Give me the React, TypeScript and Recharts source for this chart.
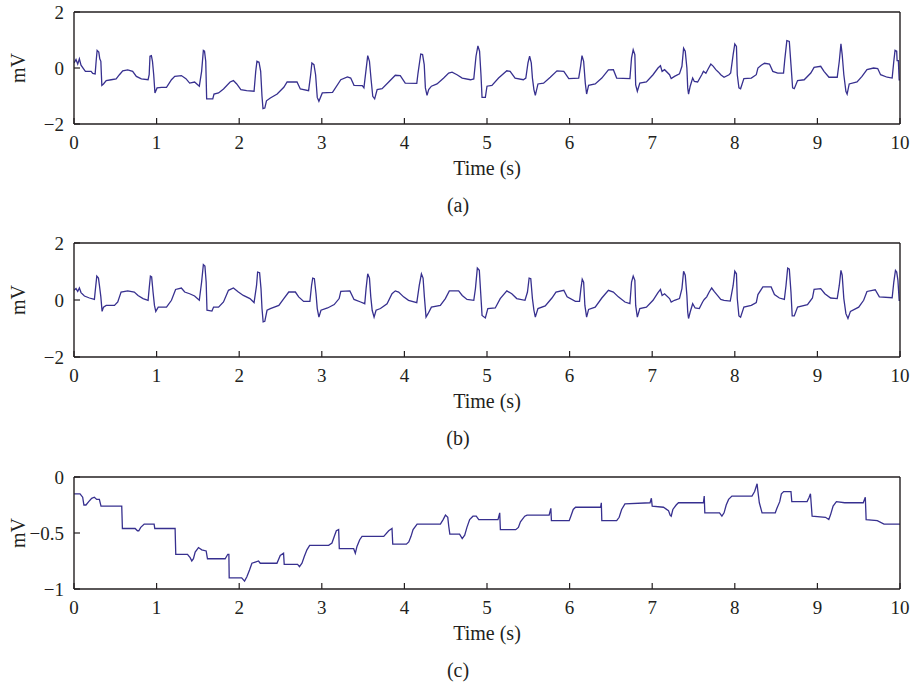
import React from 'react';
import { LineChart, Line, XAxis, YAxis, Label } from 'recharts';

const X_TICKS = [0, 1, 2, 3, 4, 5, 6, 7, 8, 9, 10];
const Y_TICKS_AB = [-2, 0, 2];
const Y_TICKS_C = [-1, -0.5, 0];

// (a) raw ECG, [time s, mV]
const rawA: [number, number][] = [
  [0, 0.18], [0.024, 0.3], [0.045, 0.14], [0.065, 0.33], [0.085, 0.1], [0.114, -0.02], [0.138, -0.12], [0.207, -0.12], [0.227, -0.19], [0.256, -0.21],
  [0.268, 0.24], [0.28, 0.63], [0.3, 0.57], [0.312, 0.33], [0.325, 0.24], [0.337, -0.62], [0.357, -0.57], [0.39, -0.45], [0.45, -0.42], [0.51, -0.39],
  [0.55, -0.24], [0.59, -0.1], [0.65, -0.07], [0.71, -0.12], [0.755, -0.3], [0.815, -0.39], [0.897, -0.42],
  [0.91, -0.24], [0.92, 0.42], [0.937, 0.44], [0.95, 0.24], [0.965, -0.24], [0.98, -0.89], [1.006, -0.71], [1.06, -0.69], [1.12, -0.69], [1.18, -0.42],
  [1.22, -0.3], [1.3, -0.27], [1.355, -0.38], [1.4, -0.54], [1.46, -0.5], [1.517, -0.65],
  [1.545, -0.12], [1.566, 0.63], [1.58, 0.6], [1.595, 0.24], [1.606, -1.1], [1.68, -1.1], [1.695, -0.93], [1.75, -0.89], [1.81, -0.75], [1.89, -0.5],
  [1.93, -0.45], [1.97, -0.57], [2.02, -0.77], [2.09, -0.81], [2.18, -0.83],
  [2.2, -0.12], [2.215, 0.24], [2.24, 0.21], [2.26, -0.12], [2.276, -1.01], [2.288, -1.45], [2.31, -1.43], [2.33, -1.17], [2.377, -1.07], [2.46, -0.93],
  [2.54, -0.69], [2.58, -0.5], [2.7, -0.5], [2.74, -0.75], [2.84, -0.81],
  [2.865, -0.24], [2.88, 0.18], [2.905, 0.12], [2.925, -0.24], [2.945, -1.05], [2.965, -1.19], [3.006, -0.89], [3.13, -0.87], [3.23, -0.42], [3.31, -0.32],
  [3.35, -0.36], [3.39, -0.62], [3.49, -0.63], [3.51, -0.71],
  [3.536, -0.06], [3.556, 0.44], [3.577, 0.24], [3.597, -0.42], [3.617, -1.01], [3.64, -1.1], [3.67, -0.77], [3.73, -0.74], [3.81, -0.5], [3.89, -0.26],
  [3.95, -0.27], [4.01, -0.54], [4.15, -0.55],
  [4.165, -0.18], [4.198, 0.5], [4.22, 0.48], [4.24, 0.12], [4.254, -0.71], [4.274, -0.98], [4.294, -0.77], [4.327, -0.65], [4.395, -0.57], [4.476, -0.36],
  [4.536, -0.18], [4.577, -0.15], [4.637, -0.24], [4.7, -0.36], [4.8, -0.42],
  [4.84, -0.39], [4.867, 0.42], [4.89, 0.79], [4.91, 0.6], [4.927, -0.24], [4.94, -1.05], [4.98, -1.05], [5.0, -0.65], [5.06, -0.62], [5.14, -0.36],
  [5.24, -0.1], [5.28, -0.12], [5.34, -0.36], [5.44, -0.42],
  [5.47, -0.36], [5.496, 0.18], [5.516, 0.42], [5.536, 0.18], [5.55, -0.36], [5.568, -0.77], [5.585, -0.98], [5.617, -0.57], [5.685, -0.54], [5.766, -0.33],
  [5.847, -0.1], [5.93, -0.12], [5.99, -0.38], [6.11, -0.36],
  [6.133, 0.06], [6.15, 0.44], [6.17, 0.24], [6.19, -0.54], [6.206, -0.93], [6.23, -0.62], [6.31, -0.57], [6.39, -0.36], [6.47, -0.07], [6.53, -0.06],
  [6.57, -0.36], [6.73, -0.38],
  [6.75, 0.36], [6.77, 0.65], [6.79, 0.48], [6.8, -0.6], [6.82, -0.83], [6.85, -0.54], [6.93, -0.5], [7.01, -0.24], [7.07, 0.0], [7.1, 0.08],
  [7.12, -0.12], [7.15, -0.06], [7.21, -0.24], [7.23, -0.38], [7.27, -0.3], [7.33, -0.21],
  [7.36, 0.06], [7.38, 0.71], [7.4, 0.6], [7.42, 0.0], [7.43, -0.71], [7.44, -0.93], [7.46, -0.65], [7.49, -0.36], [7.51, -0.48], [7.55, -0.5],
  [7.6, -0.24], [7.62, -0.12], [7.65, -0.19], [7.68, -0.02], [7.71, 0.14], [7.74, 0.06], [7.77, -0.06], [7.8, -0.14], [7.83, -0.24], [7.87, -0.33],
  [7.93, -0.24], [7.95, -0.18],
  [7.98, 0.48], [8.0, 0.86], [8.02, 0.77], [8.03, -0.24], [8.05, -0.71], [8.07, -0.74], [8.11, -0.38], [8.2, -0.36], [8.26, -0.24], [8.28, 0.0],
  [8.32, 0.1], [8.36, 0.17], [8.42, 0.14], [8.46, -0.12], [8.52, -0.18], [8.59, -0.18],
  [8.605, 0.3], [8.63, 0.98], [8.66, 0.95], [8.68, 0.12], [8.7, -0.71], [8.72, -0.74], [8.76, -0.45], [8.84, -0.42], [8.92, -0.18], [8.96, 0.02],
  [9.04, 0.06], [9.08, -0.12], [9.14, -0.33], [9.24, -0.33],
  [9.265, 0.24], [9.285, 0.86], [9.3, 0.48], [9.32, -0.24], [9.345, -0.83], [9.36, -0.93], [9.385, -0.57], [9.48, -0.5], [9.54, -0.3], [9.6, -0.06],
  [9.68, 0.0], [9.73, -0.02], [9.765, -0.24], [9.845, -0.33], [9.905, -0.36],
  [9.925, 0.24], [9.94, 0.63], [9.96, 0.6], [9.965, 0.26], [9.98, 0.26], [9.99, -0.42], [10, -0.42],
];

// (b) baseline-corrected ECG, [time s, mV]
const rawB: [number, number][] = [
  [0, 0.34], [0.024, 0.4], [0.045, 0.3], [0.065, 0.42], [0.085, 0.26], [0.126, 0.14], [0.187, 0.07], [0.247, 0.02],
  [0.26, 0.4], [0.276, 0.84], [0.296, 0.77], [0.308, 0.51], [0.325, 0.11], [0.34, -0.4], [0.357, -0.25], [0.39, -0.19], [0.49, -0.19], [0.53, -0.07],
  [0.57, 0.28], [0.65, 0.32], [0.73, 0.28], [0.775, 0.16], [0.836, 0.05], [0.897, -0.01],
  [0.91, 0.4], [0.925, 0.84], [0.94, 0.81], [0.957, 0.28], [0.974, -0.19], [0.99, -0.4], [1.02, -0.25], [1.12, -0.25], [1.18, -0.01], [1.23, 0.37],
  [1.3, 0.42], [1.34, 0.28], [1.4, 0.22], [1.46, 0.14], [1.517, -0.01],
  [1.545, 0.63], [1.566, 1.24], [1.585, 1.19], [1.6, 0.63], [1.61, -0.36], [1.67, -0.39], [1.69, -0.25], [1.75, -0.25], [1.81, -0.07], [1.87, 0.34],
  [1.93, 0.42], [1.99, 0.28], [2.05, 0.16], [2.13, 0.05], [2.18, -0.09],
  [2.21, 0.51], [2.223, 0.98], [2.247, 0.96], [2.264, 0.4], [2.276, -0.3], [2.29, -0.77], [2.31, -0.75], [2.337, -0.36], [2.377, -0.3], [2.48, -0.19],
  [2.54, 0.05], [2.6, 0.28], [2.68, 0.28], [2.72, 0.11], [2.78, -0.05], [2.856, -0.05],
  [2.876, 0.51], [2.89, 0.77], [2.91, 0.75], [2.93, 0.22], [2.945, -0.3], [2.965, -0.6], [2.99, -0.36], [3.07, -0.28], [3.15, -0.16], [3.21, 0.05],
  [3.23, 0.3], [3.34, 0.32], [3.39, 0.02], [3.47, -0.07], [3.52, -0.13],
  [3.536, 0.4], [3.556, 0.92], [3.577, 0.77], [3.593, 0.11], [3.61, -0.36], [3.633, -0.6], [3.657, -0.36], [3.71, -0.3], [3.79, -0.13], [3.85, 0.22],
  [3.89, 0.32], [3.93, 0.28], [3.99, 0.11], [4.05, -0.01], [4.15, -0.09],
  [4.18, 0.51], [4.206, 0.92], [4.226, 0.77], [4.242, 0.11], [4.262, -0.6], [4.286, -0.48], [4.327, -0.25], [4.435, -0.19], [4.496, 0.05], [4.544, 0.32],
  [4.657, 0.32], [4.7, 0.16], [4.758, 0.02], [4.84, -0.01],
  [4.86, 0.4], [4.883, 1.12], [4.907, 1.04], [4.923, 0.28], [4.94, -0.54], [4.98, -0.63], [5.01, -0.3], [5.1, -0.28], [5.16, 0.05], [5.24, 0.32],
  [5.3, 0.22], [5.36, 0.05], [5.46, -0.01],
  [5.49, 0.28], [5.51, 0.77], [5.53, 0.75], [5.55, 0.05], [5.568, -0.36], [5.585, -0.6], [5.617, -0.3], [5.705, -0.21], [5.786, 0.07], [5.835, 0.28],
  [5.93, 0.34], [5.97, 0.11], [6.07, -0.05], [6.12, -0.05],
  [6.137, 0.4], [6.153, 0.73], [6.17, 0.63], [6.185, -0.19], [6.206, -0.6], [6.23, -0.33], [6.31, -0.25], [6.39, 0.07], [6.47, 0.34], [6.53, 0.28],
  [6.59, 0.11], [6.67, -0.07], [6.73, -0.13],
  [6.75, 0.63], [6.77, 0.84], [6.79, 0.69], [6.8, -0.19], [6.82, -0.6], [6.85, -0.3], [6.93, -0.25], [7.01, -0.01], [7.07, 0.26], [7.1, 0.37],
  [7.12, 0.16], [7.15, 0.22], [7.21, 0.05], [7.23, -0.07], [7.27, -0.01], [7.33, 0.05],
  [7.36, 0.4], [7.38, 1.01], [7.4, 0.87], [7.42, 0.16], [7.43, -0.42], [7.44, -0.65], [7.46, -0.42], [7.49, -0.13], [7.52, -0.28], [7.57, -0.3],
  [7.61, -0.07], [7.63, 0.02], [7.66, 0.11], [7.69, 0.28], [7.72, 0.42], [7.75, 0.3], [7.79, 0.16], [7.83, 0.02], [7.87, -0.01], [7.945, -0.04],
  [7.98, 0.51], [8.0, 1.01], [8.02, 0.92], [8.03, 0.05], [8.05, -0.56], [8.07, -0.6], [8.11, -0.25], [8.2, -0.19], [8.26, -0.09], [8.28, 0.19],
  [8.34, 0.46], [8.44, 0.46], [8.48, 0.19], [8.54, 0.07], [8.6, 0.02],
  [8.62, 0.51], [8.64, 1.12], [8.66, 1.08], [8.68, 0.28], [8.695, -0.56], [8.72, -0.56], [8.76, -0.25], [8.88, -0.16], [8.94, 0.07], [8.96, 0.37],
  [9.04, 0.4], [9.09, 0.22], [9.16, 0.07], [9.24, 0.05],
  [9.265, 0.51], [9.285, 1.04], [9.3, 0.87], [9.32, 0.05], [9.345, -0.48], [9.37, -0.65], [9.4, -0.4], [9.5, -0.25], [9.56, -0.01], [9.6, 0.3],
  [9.7, 0.36], [9.75, 0.11], [9.905, 0.08],
  [9.925, 0.63], [9.945, 1.04], [9.96, 0.98], [9.975, 0.69], [9.99, -0.01], [10, -0.01],
];

// (c) baseline wander, [time s, mV]
const rawC: [number, number][] = [
  [0, -0.15], [0.073, -0.15], [0.105, -0.18], [0.12, -0.25], [0.145, -0.25], [0.178, -0.22], [0.214, -0.19], [0.246, -0.18], [0.275, -0.2], [0.307, -0.2],
  [0.327, -0.26], [0.578, -0.26], [0.586, -0.46], [0.74, -0.46], [0.768, -0.48], [0.784, -0.48], [0.808, -0.45], [0.85, -0.42], [0.97, -0.42], [0.978, -0.46],
  [1.224, -0.46], [1.232, -0.69], [1.374, -0.69], [1.406, -0.72], [1.426, -0.75], [1.446, -0.73], [1.467, -0.67], [1.507, -0.63], [1.547, -0.65], [1.6, -0.66],
  [1.616, -0.73], [1.83, -0.73], [1.862, -0.69], [1.875, -0.69], [1.879, -0.9], [2.03, -0.9], [2.065, -0.93], [2.093, -0.89], [2.125, -0.83], [2.154, -0.77],
  [2.194, -0.76], [2.234, -0.75], [2.255, -0.77], [2.457, -0.77], [2.497, -0.7], [2.537, -0.68], [2.545, -0.78], [2.707, -0.78], [2.73, -0.8], [2.76, -0.77],
  [2.788, -0.71], [2.82, -0.65], [2.853, -0.61], [3.083, -0.61], [3.123, -0.59], [3.156, -0.52], [3.176, -0.48], [3.204, -0.47], [3.212, -0.64], [3.386, -0.64],
  [3.406, -0.68], [3.426, -0.62], [3.459, -0.56], [3.487, -0.53], [3.75, -0.53], [3.81, -0.48], [3.85, -0.46], [3.859, -0.6], [4.024, -0.6], [4.053, -0.58],
  [4.08, -0.53], [4.105, -0.47], [4.154, -0.42], [4.436, -0.42], [4.469, -0.38], [4.497, -0.34], [4.525, -0.36], [4.537, -0.44], [4.55, -0.51], [4.668, -0.51],
  [4.7, -0.55], [4.73, -0.52], [4.757, -0.45], [4.79, -0.38], [4.83, -0.35], [4.87, -0.35], [4.9, -0.38], [5.133, -0.38], [5.154, -0.32], [5.162, -0.47],
  [5.348, -0.47], [5.38, -0.45], [5.405, -0.4], [5.457, -0.35], [5.485, -0.34], [5.752, -0.34], [5.773, -0.28], [5.78, -0.39], [5.995, -0.39], [6.015, -0.35],
  [6.044, -0.29], [6.072, -0.27], [6.375, -0.27], [6.384, -0.23], [6.39, -0.39], [6.57, -0.39], [6.6, -0.36], [6.63, -0.29], [6.67, -0.24], [6.974, -0.23],
  [6.99, -0.19], [7.0, -0.26], [7.136, -0.27], [7.197, -0.3], [7.217, -0.34], [7.23, -0.35], [7.25, -0.29], [7.29, -0.25], [7.318, -0.23], [7.62, -0.23],
  [7.63, -0.17], [7.637, -0.32], [7.815, -0.32], [7.844, -0.35], [7.87, -0.32], [7.896, -0.25], [7.925, -0.2], [7.965, -0.17], [8.208, -0.17], [8.24, -0.13],
  [8.27, -0.06], [8.277, -0.11], [8.297, -0.23], [8.33, -0.32], [8.49, -0.32], [8.51, -0.28], [8.544, -0.22], [8.564, -0.15], [8.592, -0.13], [8.68, -0.13],
  [8.69, -0.22], [8.875, -0.22], [8.9, -0.18], [8.916, -0.15], [8.936, -0.35], [9.098, -0.36], [9.138, -0.38], [9.158, -0.34], [9.19, -0.26], [9.23, -0.22],
  [9.33, -0.23], [9.555, -0.23], [9.58, -0.18], [9.59, -0.38], [9.725, -0.39], [9.806, -0.42], [10, -0.42],
];

const toRows = (raw: [number, number][]) => raw.map(([t, v]) => ({ t, v }));
const dataA = toRows(rawA);
const dataB = toRows(rawB);
const dataC = toRows(rawC);

const FONT = '"Liberation Serif", "Times New Roman", Times, serif';
const INK = '#231f20';
const TRACE = '#37308f';
const TICK_FS = 19;
const LABEL_FS = 20;

const fmt = (v: number) => (v < 0 ? '\u2212' + Math.abs(v) : String(v));

type PanelProps = {
  data: { t: number; v: number }[];
  yDomain: [number, number];
  yTicks: number[];
  top: number;
  plotH: number;
  height: number;
  caption: string;
};

const MARGIN_TOP = 11;
const TOP_AXIS_H = 1;
const PLOT_TOP = MARGIN_TOP + TOP_AXIS_H;
const LEFT_W = 74;

function Panel({ data, yDomain, yTicks, top, plotH, height, caption }: PanelProps) {
  const plotBottom = PLOT_TOP + plotH;
  const xAxisH = height - plotBottom;
  const tickStyle = { fill: INK, fontSize: TICK_FS, fontFamily: FONT };
  const axisLine = { stroke: INK, strokeWidth: 1.4 };
  const tickLine = { stroke: INK, strokeWidth: 1.2 };
  return (
    <div style={{ position: 'absolute', left: 0, top }}>
      <LineChart width={911} height={height} data={data} margin={{ top: MARGIN_TOP, right: 10, bottom: 0, left: 0 }}>
        <XAxis
          xAxisId="bottom"
          dataKey="t"
          type="number"
          domain={[0, 10]}
          ticks={X_TICKS}
          interval={0}
          allowDataOverflow
          height={xAxisH}
          tickSize={-6}
          tickMargin={18}
          tick={tickStyle}
          axisLine={axisLine}
          tickLine={tickLine}
        >
          <Label
            content={() => (
              <g>
                <text x={487} y={plotBottom + 51} textAnchor="middle" fill={INK} fontSize={LABEL_FS} fontFamily={FONT}>
                  Time (s)
                </text>
                <text x={458} y={plotBottom + 88} textAnchor="middle" fill={INK} fontSize={LABEL_FS} fontFamily={FONT}>
                  {caption}
                </text>
              </g>
            )}
          />
        </XAxis>
        <XAxis
          xAxisId="top"
          orientation="top"
          type="number"
          dataKey="t"
          domain={[0, 10]}
          ticks={X_TICKS}
          interval={0}
          allowDataOverflow
          height={TOP_AXIS_H}
          tickSize={-6}
          tick={false}
          axisLine={axisLine}
          tickLine={tickLine}
        />
        <YAxis
          yAxisId="left"
          type="number"
          domain={yDomain}
          ticks={yTicks}
          interval={0}
          allowDataOverflow
          width={LEFT_W}
          tickSize={-6}
          tickMargin={16}
          tick={tickStyle}
          tickFormatter={fmt}
          axisLine={axisLine}
          tickLine={tickLine}
        >
          <Label
            content={() => (
              <text
                x={25}
                y={PLOT_TOP + plotH / 2}
                transform={`rotate(-90 25 ${PLOT_TOP + plotH / 2})`}
                textAnchor="middle"
                fill={INK}
                fontSize={LABEL_FS}
                fontFamily={FONT}
              >
                mV
              </text>
            )}
          />
        </YAxis>
        <YAxis
          yAxisId="right"
          orientation="right"
          type="number"
          domain={yDomain}
          ticks={yTicks}
          interval={0}
          allowDataOverflow
          width={1}
          tickSize={-6}
          tick={false}
          axisLine={axisLine}
          tickLine={tickLine}
        />
        {/* invisible copy bound to the top/right axes so that the frame axes render */}
        <Line
          xAxisId="top"
          yAxisId="right"
          type="linear"
          dataKey="v"
          stroke="none"
          strokeOpacity={0}
          dot={false}
          activeDot={false}
          legendType="none"
          isAnimationActive={false}
        />
        <Line
          xAxisId="bottom"
          yAxisId="left"
          type="linear"
          dataKey="v"
          stroke={TRACE}
          strokeWidth={1.3}
          dot={false}
          activeDot={false}
          isAnimationActive={false}
        />
      </LineChart>
    </div>
  );
}

export default function App() {
  return (
    <div style={{ position: 'absolute', left: 0, top: 0, width: 911, height: 689, background: '#fff' }}>
      <Panel data={dataA} yDomain={[-2, 2]} yTicks={Y_TICKS_AB} top={0} plotH={112} height={225} caption="(a)" />
      <Panel data={dataB} yDomain={[-2, 2]} yTicks={Y_TICKS_AB} top={231} plotH={114} height={232} caption="(b)" />
      <Panel data={dataC} yDomain={[-1, 0]} yTicks={Y_TICKS_C} top={465} plotH={112} height={224} caption="(c)" />
    </div>
  );
}
